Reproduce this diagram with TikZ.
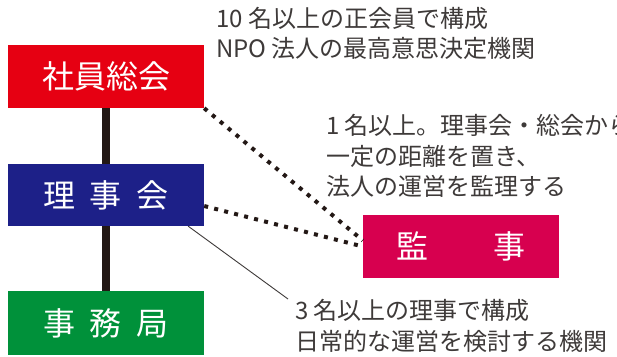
\documentclass[tikz,border=0pt]{standalone}
\usepackage{fontspec}
\newfontfamily\jp{Noto Sans CJK JP}
\definecolor{sred}{HTML}{E60012}
\definecolor{sblue}{HTML}{1D2088}
\definecolor{sgreen}{HTML}{00913A}
\definecolor{smag}{HTML}{D7004F}
\definecolor{ink}{HTML}{231815}
\definecolor{txt}{HTML}{3E3A39}
\begin{document}
\begin{tikzpicture}[x=1pt,y=-1pt,
  box/.style={minimum width=196pt, minimum height=63pt, inner sep=0pt, text=white,
    font=\jp\fontsize{32}{38}\selectfont, anchor=center},
  note/.style={anchor=west, align=left, inner sep=0pt, text=txt,
    font=\jp\fontsize{24}{30.5}\selectfont},
  dotline/.style={draw=ink, line width=4pt, dash pattern=on 4pt off 6.3pt},
  thinline/.style={draw=txt, line width=0.9pt},
  bar/.style={draw=ink, line width=8pt}]
\clip (0,0) rectangle (617,356);
\fill[white] (0,0) rectangle (617,356);

% boxes
\node[box, fill=sred]   (sokai) at (106,76.5) {社員総会};
\node[box, fill=sblue, minimum height=62pt]  (riji)  at (106,195) {理\hspace{0.45em}事\hspace{0.45em}会};
\node[box, fill=sgreen, minimum height=64pt] (jimu)  at (106,323) {事\hspace{0.45em}務\hspace{0.45em}局};
\node[box, fill=smag]   (kanji) at (461,246.5) {監\hspace{2.03em}事};

% vertical bar behind boxes
\begin{scope}[on background layer/.try]
\end{scope}
\draw[bar] (sokai.south) -- (riji.north);
\draw[bar] (riji.south) -- (jimu.north);

% dotted connectors
\draw[dotline] (sokai.south east) -- ([yshift=6pt]kanji.west);
\draw[dotline] ([yshift=-11pt]riji.east) -- (kanji.west);

% notes
\node[note] (n1) at (216,33.5) {10 名以上の正会員で構成\\NPO 法人の最高意思決定機関};
\node[note] (n2) at (326,156) {1 名以上。理事会・総会から\\一定の距離を置き、\\法人の運営を監理する};
\node[note] (n3) at (295,326) {3 名以上の理事で構成\\日常的な運営を検討する機関};

% thin leader
\coordinate (tip) at (288,299);
\draw[thinline] ([xshift=-16pt]riji.south east) -- (tip);
\end{tikzpicture}
\end{document}
